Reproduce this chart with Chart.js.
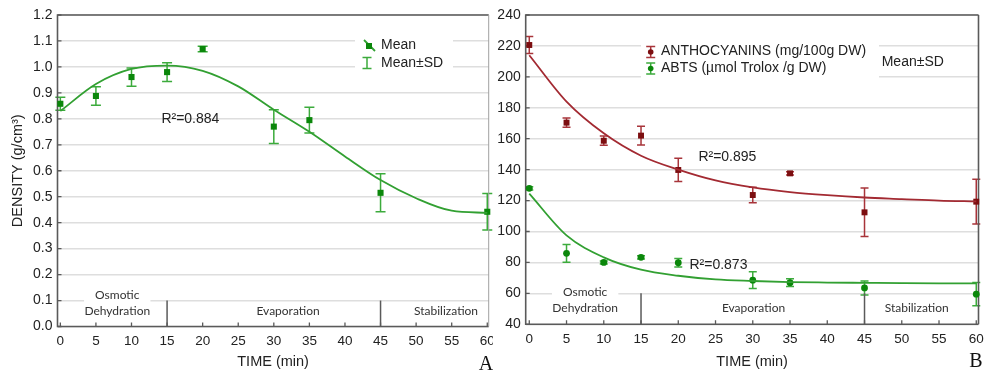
<!DOCTYPE html>
<html>
<head>
<meta charset="utf-8">
<script src="https://cdn.jsdelivr.net/npm/chart.js@4.4.0/dist/chart.umd.min.js"></script>
<style>
  html, body { margin: 0; padding: 0; background: #fff; }
  #wrap { position: relative; width: 993px; height: 373px; overflow: hidden; background: #fff; }
  #chartA { position: absolute; left: 0; top: 0; }
  #chartB { position: absolute; left: 493px; top: 0; background: #fff; }
</style>
</head>
<body>
<div id="wrap">
  <canvas id="chartA" width="493" height="373"></canvas>
  <canvas id="chartB" width="500" height="373"></canvas>
</div>
<script>
// Sampling times (min)
const timePoints = [0, 5, 10, 15, 20, 30, 35, 45, 60];

// Panel A - density (g/cm3), mean and SD
const densityMean = [0.858, 0.888, 0.961, 0.980, 1.069, 0.770, 0.795, 0.515, 0.442];
const densitySD = [0.025, 0.036, 0.035, 0.036, 0.011, 0.065, 0.050, 0.073, 0.070];

// Panel B - anthocyanins and ABTS, mean and SD
const anthoMean = [220.6, 170.4, 158.7, 162.0, 139.8, 123.6, 137.6, 112.4, 119.3];
const anthoSD = [5.5, 3.0, 3.0, 6.0, 7.5, 5.0, 1.0, 15.7, 14.5];
const abtsMean = [127.9, 85.9, 80.0, 83.3, 79.8, 68.5, 66.9, 63.5, 59.5];
const abtsSD = [1.0, 5.7, 1.0, 1.0, 2.7, 5.4, 2.5, 4.5, 7.5];

// Fitted curves, every 5 min
const fitTime = [0, 5, 10, 15, 20, 25, 30, 35, 40, 45, 50, 55, 60];
const densityFit = [0.83, 0.934, 0.992, 1.005, 0.985, 0.925, 0.835, 0.75, 0.655, 0.564, 0.494, 0.446, 0.438];
const anthoFit = [214, 184, 163.5, 149, 140, 133, 128.5, 125.5, 123.5, 122, 121, 120, 119.5];
const abtsFit = [124.5, 97.5, 83.3, 75.3, 71.4, 69, 68, 67.3, 67, 66.8, 66.6, 66.5, 66.5];

// Tick labels
const timeTicks = [0, 5, 10, 15, 20, 25, 30, 35, 40, 45, 50, 55, 60];
const densityTicks = [0, 0.1, 0.2, 0.3, 0.4, 0.5, 0.6, 0.7, 0.8, 0.9, 1.0, 1.1, 1.2];
const rightTicks = [40, 60, 80, 100, 120, 140, 160, 180, 200, 220, 240];

// Process stages
const phaseNames = [['Osmotic', 'Dehydration'], ['Evaporation'], ['Stabilization']];
const phaseBounds = [15, 45];

const greenMark = '#0b870b';
const greenLine = '#32a032';
const greenBar = '#3cab3c';
const redMark = '#7c0e10';
const redLine = '#a32a32';
const redBar = '#a8343a';
const axisColor = '#5a5a5a';
const textColor = '#222';
const sans = "'Liberation Sans', Arial, sans-serif";

function toXY(xs, ys) {
  return xs.map((x, i) => ({ x: x, y: ys[i] }));
}

// error bars under the markers
const errorBars = {
  id: 'errorBars',
  beforeDatasetsDraw(chart) {
    const { ctx, scales: { x, y } } = chart;
    chart.data.datasets.forEach(ds => {
      if (!ds.errors) return;
      ctx.save();
      ctx.strokeStyle = ds.barColor;
      ctx.lineWidth = 1.5;
      ds.data.forEach((p, i) => {
        const px = x.getPixelForValue(p.x);
        const top = y.getPixelForValue(p.y + ds.errors[i]);
        const bot = y.getPixelForValue(p.y - ds.errors[i]);
        ctx.beginPath();
        ctx.moveTo(px, top); ctx.lineTo(px, bot);
        ctx.moveTo(px - ds.cap, top); ctx.lineTo(px + ds.cap, top);
        ctx.moveTo(px - ds.cap, bot); ctx.lineTo(px + ds.cap, bot);
        ctx.stroke();
      });
      ctx.restore();
    });
  }
};

// frame, inner ticks, stage marks, legend and labels
const decor = {
  id: 'decor',
  beforeDatasetsDraw(chart, args, opts) {
    const { ctx, chartArea: a, scales: { x, y } } = chart;
    ctx.save();
    // white boxes behind legend
    ctx.fillStyle = '#fff';
    opts.boxes.forEach(b => ctx.fillRect(b[0], b[1], b[2], b[3]));

    // stage separators and labels
    ctx.font = "12px Lato, 'Open Sans', sans-serif";
    ctx.textAlign = 'center';
    ctx.textBaseline = 'middle';
    ctx.strokeStyle = axisColor;
    ctx.lineWidth = 1.5;
    phaseBounds.forEach(v => {
      const px = x.getPixelForValue(v);
      ctx.beginPath();
      ctx.moveTo(px, a.bottom);
      ctx.lineTo(px, y.getPixelForValue(opts.sepTop));
      ctx.stroke();
    });
    phaseNames.forEach((lines, k) => {
      const px = x.getPixelForValue(opts.phaseX[k]);
      const baseY = y.getPixelForValue(opts.phaseY);
      lines.forEach((t, j) => {
        const py = baseY - (lines.length - 1 - j) * 16;
        if (lines.length > 1 && j === 0) {
          const w = ctx.measureText(t).width + 22;
          ctx.fillStyle = '#fff';
          ctx.fillRect(px - w / 2, py - 8, w, 16);
        }
        ctx.fillStyle = '#333';
        ctx.fillText(t, px, py);
      });
    });

    // frame
    ctx.strokeStyle = axisColor;
    ctx.lineWidth = 1.6;
    ctx.beginPath();
    ctx.moveTo(a.right, a.top); ctx.lineTo(a.left, a.top);
    ctx.lineTo(a.left, a.bottom); ctx.lineTo(a.right, a.bottom);
    ctx.stroke();
    ctx.strokeStyle = opts.rightBorder;
    ctx.lineWidth = opts.rightBorderWidth;
    ctx.beginPath();
    ctx.moveTo(a.right, a.top); ctx.lineTo(a.right, a.bottom);
    ctx.stroke();

    // small inner ticks
    ctx.strokeStyle = axisColor;
    ctx.lineWidth = 1.3;
    ctx.beginPath();
    timeTicks.forEach(v => {
      const px = x.getPixelForValue(v);
      ctx.moveTo(px, a.bottom); ctx.lineTo(px, a.bottom - 4);
    });
    opts.yTicks.forEach(v => {
      const py = y.getPixelForValue(v);
      ctx.moveTo(a.left, py); ctx.lineTo(a.left + 4, py);
    });
    ctx.stroke();
    ctx.restore();
  },
  afterDatasetsDraw(chart, args, opts) {
    const { ctx, scales: { x, y } } = chart;
    ctx.save();
    ctx.textBaseline = 'middle';
    ctx.textAlign = 'left';
    ctx.fillStyle = textColor;
    ctx.font = '14px ' + sans;
    opts.texts.forEach(t => {
      ctx.fillText(t.text, x.getPixelForValue(t.x), y.getPixelForValue(t.y));
    });
    opts.legend.forEach(item => {
      ctx.fillStyle = textColor;
      ctx.font = '14px ' + sans;
      ctx.fillText(item.text, item.tx, item.ty);
      if (item.icon === 'line') {
        ctx.strokeStyle = item.line;
        ctx.lineWidth = 1.8;
        ctx.beginPath();
        ctx.moveTo(item.ix - 5, item.iy - 6);
        ctx.lineTo(item.ix + 6, item.iy + 5);
        ctx.stroke();
        ctx.fillStyle = item.mark;
        ctx.fillRect(item.ix - 3, item.iy - 3, 6, 6);
      } else if (item.icon === 'bar') {
        ctx.strokeStyle = item.line;
        ctx.lineWidth = 1.5;
        ctx.beginPath();
        ctx.moveTo(item.ix, item.iy - 5.5); ctx.lineTo(item.ix, item.iy + 5.5);
        ctx.moveTo(item.ix - 4.5, item.iy - 5.5); ctx.lineTo(item.ix + 4.5, item.iy - 5.5);
        ctx.moveTo(item.ix - 4.5, item.iy + 5.5); ctx.lineTo(item.ix + 4.5, item.iy + 5.5);
        ctx.stroke();
        if (item.mark) {
          ctx.fillStyle = item.mark;
          ctx.beginPath();
          ctx.arc(item.ix, item.iy, 2.8, 0, Math.PI * 2);
          ctx.fill();
        }
      }
    });
    ctx.font = "20px 'Liberation Serif', 'DejaVu Serif', serif";
    ctx.textAlign = 'center';
    ctx.fillStyle = '#111';
    ctx.fillText(opts.letter.text, opts.letter.x, opts.letter.y);
    ctx.restore();
  }
};

function makeOptions(cfg) {
  return {
    responsive: false,
    animation: false,
    layout: { padding: cfg.padding },
    plugins: {
      legend: { display: false },
      tooltip: { enabled: false },
      decor: cfg.decor
    },
    scales: {
      x: {
        type: 'linear',
        min: cfg.xMin,
        max: cfg.xMax,
        afterBuildTicks: s => { s.ticks = timeTicks.map(v => ({ value: v })); },
        afterFit: s => { s.height = cfg.xHeight; s.paddingLeft = 0; s.paddingRight = 0; },
        grid: { display: false, drawTicks: false },
        border: { display: false },
        ticks: { padding: 7, color: textColor, font: { family: sans, size: 13.5 }, maxRotation: 0, autoSkip: false },
        title: { display: true, text: 'TIME (min)', color: textColor, font: { family: sans, size: 14.5 }, padding: { top: 0, bottom: 2 } }
      },
      y: {
        type: 'linear',
        min: cfg.yMin,
        max: cfg.yMax,
        afterBuildTicks: s => { s.ticks = cfg.yTicks.map(v => ({ value: v })); },
        afterFit: s => { s.width = cfg.yWidth; s.paddingTop = 0; s.paddingBottom = 0; },
        grid: { color: '#dedede', lineWidth: 1.6, drawTicks: false },
        border: { display: false },
        ticks: { padding: 5, color: textColor, font: { family: sans, size: 14 }, autoSkip: false, callback: cfg.tickFmt },
        title: cfg.yTitle
      }
    }
  };
}

new Chart(document.getElementById('chartA'), {
  type: 'scatter',
  data: {
    datasets: [
      {
        data: toXY(fitTime, densityFit),
        showLine: true, fill: false,
        borderColor: greenLine, borderWidth: 1.8,
        pointRadius: 0, cubicInterpolationMode: 'monotone'
      },
      {
        data: toXY(timePoints, densityMean),
        showLine: false, clip: false,
        pointStyle: 'rect', pointRadius: 4.3,
        backgroundColor: greenMark, borderColor: greenMark, borderWidth: 0,
        errors: densitySD, barColor: greenBar, cap: 5
      }
    ]
  },
  options: makeOptions({
    padding: { left: 0, top: 15, right: 2.5, bottom: 0 },
    xMin: -0.4, xMax: 60.2, xHeight: 46.5,
    yMin: 0, yMax: 1.2, yTicks: densityTicks, yWidth: 57.5,
    tickFmt: v => Number(v).toFixed(1),
    yTitle: { display: true, text: 'DENSITY (g/cm³)', color: textColor, font: { family: sans, size: 14.5 }, padding: { top: 9, bottom: 0 } },
    decor: {
      yTicks: densityTicks,
      sepTop: 0.1,
      phaseX: [8, 32, 54.2],
      phaseY: 0.06,
      rightBorder: '#a0a0a0',
      rightBorderWidth: 1,
      boxes: [[355, 33, 98, 40]],
      texts: [{ text: 'R²=0.884', x: 14.2, y: 0.80 }],
      legend: [
        { icon: 'line', ix: 369, iy: 46, line: greenLine, mark: greenMark, text: 'Mean', tx: 381, ty: 45 },
        { icon: 'bar', ix: 367, iy: 63, line: greenBar, mark: null, text: 'Mean±SD', tx: 381, ty: 63 }
      ],
      letter: { text: 'A', x: 486, y: 365 }
    }
  }),
  plugins: [errorBars, decor]
});

new Chart(document.getElementById('chartB'), {
  type: 'scatter',
  data: {
    datasets: [
      {
        data: toXY(fitTime, anthoFit),
        showLine: true, fill: false,
        borderColor: redLine, borderWidth: 1.8,
        pointRadius: 0, cubicInterpolationMode: 'monotone'
      },
      {
        data: toXY(fitTime, abtsFit),
        showLine: true, fill: false,
        borderColor: greenLine, borderWidth: 1.8,
        pointRadius: 0, cubicInterpolationMode: 'monotone'
      },
      {
        data: toXY(timePoints, anthoMean),
        showLine: false, clip: false,
        pointStyle: 'rect', pointRadius: 4.2,
        backgroundColor: redMark, borderColor: redMark, borderWidth: 0,
        errors: anthoSD, barColor: redBar, cap: 4
      },
      {
        data: toXY(timePoints, abtsMean),
        showLine: false, clip: false,
        pointStyle: 'circle', pointRadius: 3.4,
        backgroundColor: greenMark, borderColor: greenMark, borderWidth: 0,
        errors: abtsSD, barColor: greenBar, cap: 4
      }
    ]
  },
  options: makeOptions({
    padding: { left: 0, top: 15, right: 14.5, bottom: 0 },
    xMin: -0.48, xMax: 60.3, xHeight: 48.7,
    yMin: 40, yMax: 240, yTicks: rightTicks, yWidth: 32.7,
    tickFmt: v => String(v),
    yTitle: { display: false },
    decor: {
      yTicks: rightTicks,
      sepTop: 60,
      phaseX: [7.5, 30.1, 52],
      phaseY: 50.3,
      rightBorder: axisColor,
      rightBorderWidth: 1.6,
      boxes: [[148, 39, 238, 43]],
      texts: [
        { text: 'R²=0.895', x: 22.7, y: 147.9 },
        { text: 'R²=0.873', x: 21.5, y: 78 }
      ],
      legend: [
        { icon: 'bar', ix: 157.7, iy: 52, line: redBar, mark: redMark, text: 'ANTHOCYANINS (mg/100g DW)', tx: 168, ty: 51.5 },
        { icon: 'bar', ix: 157.7, iy: 68.5, line: greenBar, mark: greenMark, text: 'ABTS (µmol Trolox /g DW)', tx: 168, ty: 68.3 },
        { icon: 'none', text: 'Mean±SD', tx: 388.7, ty: 61.7 }
      ],
      letter: { text: 'B', x: 483, y: 362 }
    }
  }),
  plugins: [errorBars, decor]
});
</script>
</body>
</html>
